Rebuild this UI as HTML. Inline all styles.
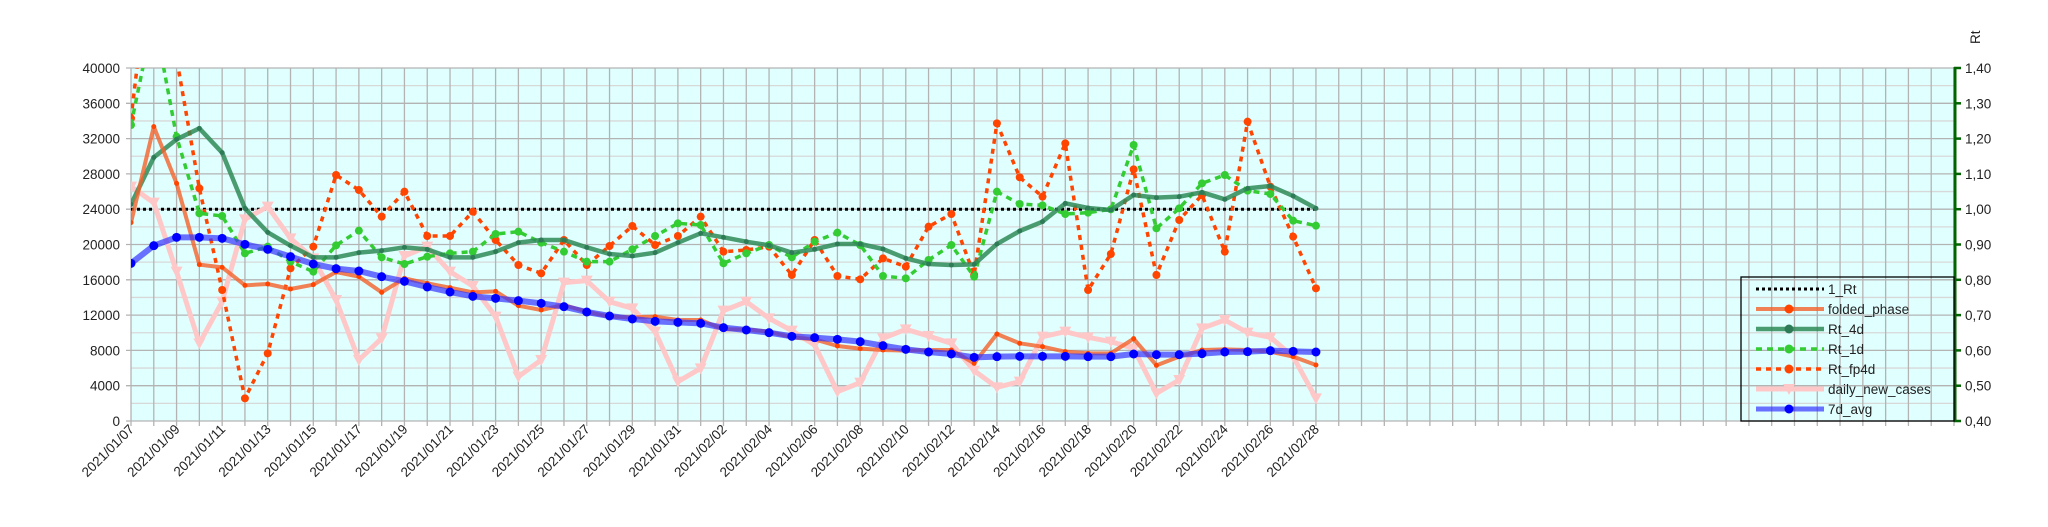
<!DOCTYPE html>
<html><head><meta charset="utf-8"><style>
html,body{margin:0;padding:0;background:#fff;}
svg{display:block;font-family:"Liberation Sans",sans-serif;}
</style></head><body>
<svg id="c" width="2048" height="527" viewBox="0 0 2048 527" xmlns="http://www.w3.org/2000/svg"></svg>
<script>
const S=document.getElementById('c');
let h='';
const L=131,R=1954,T=68,B=421,dx=(R-L)/80;
h+=`<rect x="${L}" y="${T}" width="${R-L}" height="${B-T}" fill="#e0ffff"/>`;
// minor horizontal
for(let k=0;k<10;k++){const y=T+(k+0.5)*(B-T)/10;h+=`<line x1="${L}" x2="${R}" y1="${y}" y2="${y}" stroke="#d8d8d8" stroke-width="1.3"/>`;}
for(let k=0;k<=10;k++){const y=T+k*(B-T)/10;h+=`<line x1="${L-5}" x2="${R}" y1="${y}" y2="${y}" stroke="#b3b3b3" stroke-width="1.3"/>`;}
for(let i=0;i<=80;i++){const x=L+i*dx;h+=`<line x1="${x}" x2="${x}" y1="${T}" y2="${B+5}" stroke="#b3b3b3" stroke-width="1.3"/>`;}
// left labels
for(let k=0;k<=10;k++){const y=B-k*(B-T)/10;h+=`<text x="120" y="${y+5}" font-size="13.5" text-anchor="end" fill="#222">${k*4000}</text>`;}
// right axis
h+=`<line x1="${R+1}" x2="${R+1}" y1="${T-1}" y2="${B+1}" stroke="#006400" stroke-width="3"/>`;
for(let k=0;k<=10;k++){const y=T+k*(B-T)/10;h+=`<line x1="${R}" x2="${R+7}" y1="${y}" y2="${y}" stroke="#006400" stroke-width="2.5"/>`;
h+=`<text x="1965" y="${y+5}" font-size="13.5" fill="#222">${(1.4-k*0.1).toFixed(2).replace('.',',')}</text>`;}
h+=`<text transform="translate(1980,44) rotate(-90)" font-size="13.5" fill="#222">Rt</text>`;
// x labels
for(let i=0;i<=52;i+=2){const d=new Date(Date.UTC(2021,0,7+i));const m=String(d.getUTCMonth()+1).padStart(2,'0'),dd=String(d.getUTCDate()).padStart(2,'0');
const x=L+i*dx+4,y=430;h+=`<text transform="translate(${x},${y}) rotate(-45)" font-size="13.5" text-anchor="end" fill="#222">2021/${m}/${dd}</text>`;}
h+=`<clipPath id="cp"><rect x="${L}" y="${T}" width="${R-L}" height="${B-T}"/></clipPath>`;
function pts(arr){return arr.map((zy,i)=>[L+i*dx,60+zy/3]);}
function poly(p,st){return `<polyline points="${p.map(a=>a.join(',')).join(' ')}" fill="none" ${st} stroke-linejoin="round"/>`;}
function dots(p,r,c){return p.map(a=>`<circle cx="${a[0]}" cy="${a[1]}" r="${r}" fill="${c}"/>`).join('');}
const blue=[610,557,532,532,535,553,568,590,612,626,633,650,664,681,696,709,715,722,730,740,756,768,777,784,787,790,803,810,818,829,833,838,845,857,868,876,882,892,890,889,889,889,890,890,882,884,884,881,876,875,872,874,876];
const fold=[488,200,370,614,622,676,672,687,674,636,650,697,655,670,683,697,694,737,750,735,755,770,772,770,780,780,808,808,815,832,838,858,866,870,872,870,870,910,822,850,860,875,880,880,836,916,890,870,868,870,875,890,915];
const rt4=[433,292,238,205,278,445,517,557,592,592,578,572,562,568,592,592,575,548,540,540,562,582,588,578,548,520,532,545,556,578,568,552,552,567,595,612,615,613,552,513,485,430,444,450,405,413,410,397,418,385,378,408,445];
const rt1=[195,-135,230,460,468,580,560,605,635,556,512,592,612,590,580,575,522,515,548,575,605,605,568,528,490,495,610,580,555,592,545,518,555,648,655,600,555,650,395,432,436,462,458,448,255,505,445,370,345,392,402,482,497];
const fp=[175,-400,-5,385,690,1015,880,625,560,345,390,470,395,528,528,455,540,615,640,540,615,558,498,555,528,470,575,570,560,645,540,648,658,595,620,500,462,645,190,352,410,250,690,582,328,645,480,405,575,185,380,530,685];
const pink=[380,428,635,850,725,478,440,535,595,720,900,835,588,560,635,678,770,950,900,668,662,725,745,815,965,925,752,725,775,812,855,995,968,835,808,828,850,932,982,965,830,815,832,845,865,1000,960,805,780,818,832,890,1015];
let g='<g clip-path="url(#cp)">';
g+=`<line x1="${L}" x2="${L+52*dx}" y1="209.3" y2="209.3" stroke="#000" stroke-width="3" stroke-dasharray="3,3"/>`;
const P=pts(pink);g+=poly(P,'stroke="#ffc8c8" stroke-width="5"');
g+=P.map(a=>`<polygon points="${a[0]-6},${a[1]-5} ${a[0]+6},${a[1]-5} ${a[0]},${a[1]+6}" fill="#ffc8c8"/>`).join('');
const F=pts(fp);g+=poly(F,'stroke="#ff4500" stroke-width="3.5" stroke-dasharray="5,5"')+dots(F,4,'#ff4500');
const G1=pts(rt1);g+=poly(G1,'stroke="#33cc33" stroke-width="3.5" stroke-dasharray="6,5"')+dots(G1,4,'#33cc33');
const G4=pts(rt4);g+=poly(G4,'stroke="#2e8b57" stroke-opacity="0.85" stroke-width="4.5"')+dots(G4,2.5,'#2e7b57');
const FO=pts(fold);g+=poly(FO,'stroke="#f4622a" stroke-opacity="0.8" stroke-width="4"')+dots(FO,2.5,'#ff4500');
const BL=pts(blue);g+=poly(BL,'stroke="#3333ff" stroke-opacity="0.7" stroke-width="6"')+dots(BL,4.5,'#0000ff');
g+='</g>';h+=g;
// legend
h+=`<rect x="1741" y="277" width="213" height="144" fill="none" stroke="#000" stroke-width="1.3"/>`;
const leg=[['1_Rt','stroke="#000" stroke-width="3" stroke-dasharray="3,3"',null],
['folded_phase','stroke="#f4622a" stroke-opacity="0.8" stroke-width="4"','#ff4500'],
['Rt_4d','stroke="#2e8b57" stroke-opacity="0.85" stroke-width="4.5"','#2e7b57'],
['Rt_1d','stroke="#33cc33" stroke-width="3.5" stroke-dasharray="6,5"','#33cc33'],
['Rt_fp4d','stroke="#ff4500" stroke-width="3.5" stroke-dasharray="5,5"','#ff4500'],
['daily_new_cases','stroke="#ffc8c8" stroke-width="5"','tri'],
['7d_avg','stroke="#3333ff" stroke-opacity="0.7" stroke-width="5"','#0000ff']];
leg.forEach((e,k)=>{const y=289+k*20;h+=`<line x1="1756" x2="1824" y1="${y}" y2="${y}" ${e[1]}/>`;
if(e[2]==='tri')h+=`<polygon points="1783,${y-5} 1795,${y-5} 1789,${y+6}" fill="#ffc8c8"/>`;else if(e[2])h+=`<circle cx="1789" cy="${y}" r="4.5" fill="${e[2]}"/>`;
h+=`<text x="1828" y="${y+5}" font-size="13.5" fill="#222">${e[0]}</text>`;});
S.innerHTML=h;
</script>
</body></html>
